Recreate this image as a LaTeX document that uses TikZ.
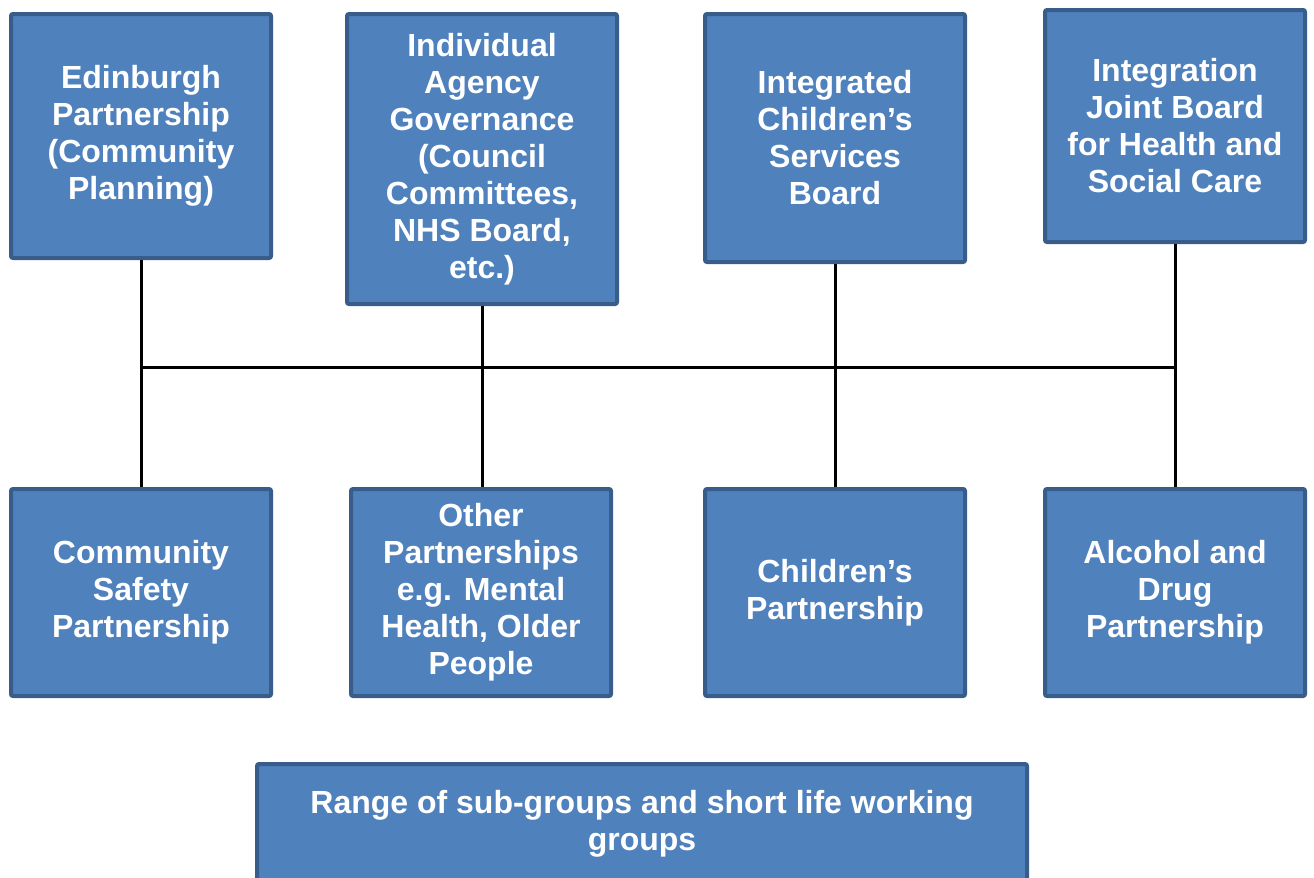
\documentclass[tikz,border=0pt]{standalone}
\usepackage{fontspec}
\setmainfont{Liberation Sans}
\usepackage{xcolor}
\usetikzlibrary{positioning}

\definecolor{boxfill}{HTML}{4F81BD}
\definecolor{boxline}{HTML}{385D8A}

\tikzset{
  board/.style={draw=boxline, fill=boxfill, line width=2pt, rounded corners=1pt,
    text=white, align=center, minimum width=130pt,
    font=\fontsize{16}{18.5}\selectfont\bfseries},
  link/.style={draw=black, line width=1.5pt}
}

\begin{document}
\begin{tikzpicture}[x=1pt, y=1pt]
        \useasboundingbox (0,0) rectangle (657,-439);
        % top row
        \node[board, minimum height=122pt, anchor=north]   (edin) at (70.5,-6)  {Edinburgh\\Partnership\\(Community\\Planning)};
        \node[board, minimum height=145pt, minimum width=135pt, anchor=north] (iag) at (241,-6) {Individual\\Agency\\Governance\\(Council\\Committees,\\NHS Board,\\etc.)};
        \node[board, minimum height=124pt, anchor=north]   (icsb) at (417.5,-6) {Integrated\\Children’s\\Services\\Board};
        \node[board, minimum height=116pt, anchor=north]   (ijb)  at (587.5,-4) {Integration\\Joint Board\\for Health and\\Social Care};
        % bottom row
        \node[board, minimum height=103.5pt, anchor=north] (csp)  at (70.5,-243.5)  {Community\\Safety\\Partnership};
        \node[board, minimum height=103.5pt, anchor=north] (other) at (240.5,-243.5) {Other\\Partnerships\\e.g. Mental\\Health, Older\\People};
        \node[board, minimum height=103.5pt, anchor=north] (cp)   at (417.5,-243.5) {Children’s\\Partnership};
        \node[board, minimum height=103.5pt, anchor=north] (adp)  at (587.5,-243.5) {Alcohol and\\Drug\\Partnership};
        \node[board, minimum width=385pt, minimum height=60pt] (sub) at (321,-412) {Range of sub-groups and short life working\\groups};
        % connectors
        \coordinate (busl) at (edin.south |- 0,-183.5);
        \coordinate (busr) at (ijb.south |- 0,-183.5);
        \path[link] (busl) -- (busr);
        \path[link] (edin.south) -- (csp.north);
        \path[link] (iag.south)  -- (iag.south |- other.north);
        \path[link] (icsb.south) -- (cp.north);
        \path[link] (ijb.south)  -- (adp.north);
\end{tikzpicture}
\end{document}
